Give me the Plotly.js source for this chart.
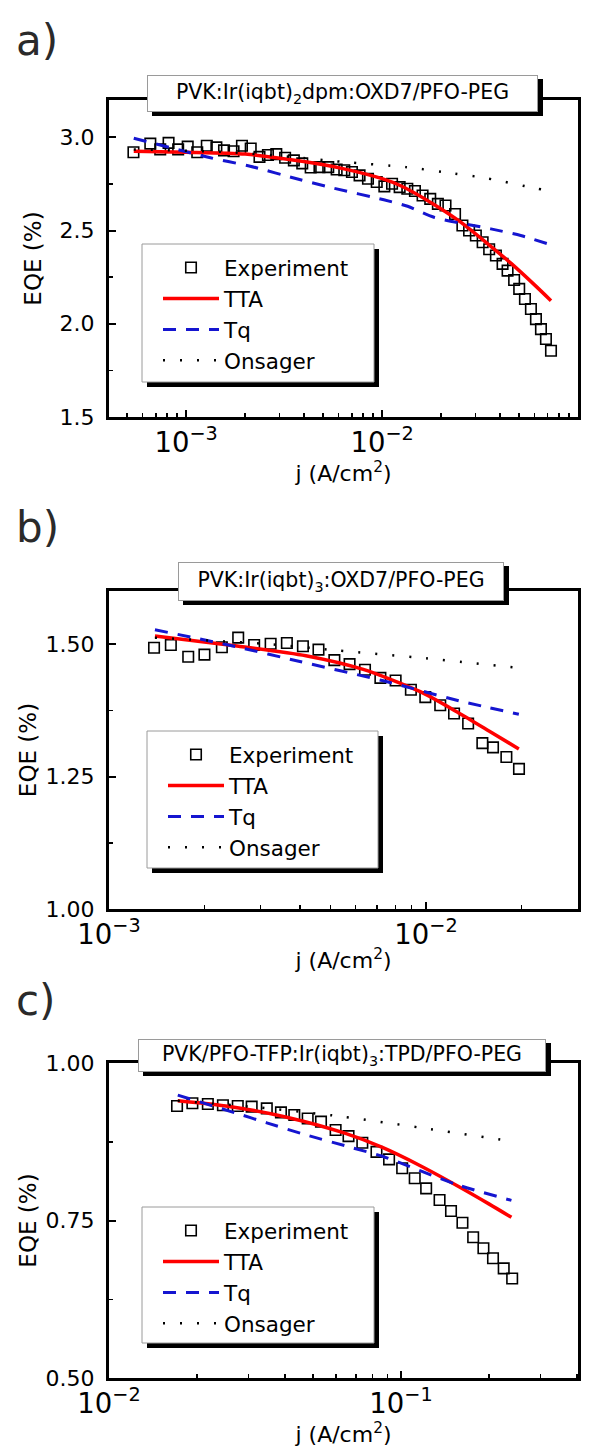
<!DOCTYPE html>
<html>
<head>
<meta charset="utf-8">
<script src="https://cdn.plot.ly/plotly-3.0.1.min.js"></script>
<style>
html,body{margin:0;padding:0;background:#fff;}
#chart{width:596px;height:1450px;}
</style>
</head>
<body>
<div id="chart"></div>
<script>
// ---------------- data ----------------
const panelLabels = ['a)', 'b)', 'c)'];
const panelTitles = [
  'PVK:Ir(iqbt)<sub>2</sub>dpm:OXD7/PFO-PEG',
  'PVK:Ir(iqbt)<sub>3</sub>:OXD7/PFO-PEG',
  'PVK/PFO-TFP:Ir(iqbt)<sub>3</sub>:TPD/PFO-PEG'
];
const seriesNames = ['Experiment', 'TTA', 'Tq', 'Onsager'];
const xTitle = 'j (A/cm<sup>2</sup>)';
const yTitle = 'EQE (%)';

// panel a
const aExpJ = [5.38e-4, 6.56e-4, 7.37e-4, 8.13e-4, 9.10e-4, 1.018e-3, 1.139e-3, 1.274e-3, 1.426e-3, 1.560e-3,
  1.745e-3, 1.926e-3, 2.135e-3, 2.367e-3, 2.614e-3, 2.884e-3, 3.198e-3, 3.545e-3, 3.913e-3, 4.320e-3,
  4.789e-3, 5.311e-3, 5.861e-3, 6.412e-3, 7.015e-3, 7.674e-3, 8.47e-3, 9.39e-3, 1.027e-2, 1.124e-2,
  1.229e-2, 1.345e-2, 1.471e-2, 1.609e-2, 1.761e-2, 1.926e-2, 2.107e-2, 2.357e-2,
  2.57e-2, 2.78e-2, 3.01e-2, 3.26e-2, 3.52e-2, 3.81e-2, 4.12e-2, 4.37e-2, 4.72e-2, 5.01e-2,
  5.36e-2, 5.75e-2, 6.10e-2, 6.47e-2, 6.86e-2, 7.28e-2];
const aExpEQE = [2.92, 2.966, 2.935, 2.97, 2.935, 2.95, 2.92, 2.955, 2.946, 2.93,
  2.925, 2.955, 2.94, 2.895, 2.905, 2.91, 2.89, 2.876, 2.86, 2.838,
  2.84, 2.84, 2.827, 2.823, 2.814, 2.796, 2.778, 2.76, 2.737, 2.751,
  2.733, 2.724, 2.712, 2.688, 2.67, 2.643, 2.634, 2.589,
  2.527, 2.50, 2.473, 2.437, 2.40, 2.366, 2.321, 2.285, 2.235, 2.187,
  2.133, 2.079, 2.025, 1.971, 1.918, 1.855];
const aTtaJ = [5.4e-4, 1.0e-3, 2.0e-3, 3.98e-3, 6.31e-3, 1.0e-2, 1.245e-2, 1.84e-2, 2.52e-2, 3.45e-2, 4.54e-2, 5.98e-2, 7.28e-2];
const aTtaEQE = [2.925, 2.92, 2.91, 2.87, 2.832, 2.778, 2.74, 2.64, 2.545, 2.43, 2.325, 2.21, 2.124];
const aTqJ = [5.4e-4, 1.33e-3, 2.12e-3, 3.83e-3, 5.66e-3, 1.02e-2, 1.35e-2, 1.84e-2, 3.59e-2, 5.1e-2, 7.28e-2];
const aTqEQE = [2.995, 2.89, 2.845, 2.772, 2.727, 2.665, 2.63, 2.571, 2.509, 2.473, 2.423];
const aOnsJ = [5.4e-4, 1.67e-3, 3.42e-3, 6.31e-3, 1.32e-2, 2.32e-2, 3.43e-2, 6.1e-2, 7.28e-2];
const aOnsEQE = [2.935, 2.92, 2.895, 2.868, 2.84, 2.806, 2.78, 2.726, 2.712];

// panel b
const bExpJ = [1.387e-3, 1.567e-3, 1.778e-3, 2.0e-3, 2.27e-3, 2.556e-3, 2.87e-3, 3.235e-3, 3.64e-3, 4.09e-3,
  4.58e-3, 5.14e-3, 5.74e-3, 6.42e-3, 7.18e-3, 8.02e-3, 8.96e-3, 9.95e-3, 1.109e-2, 1.226e-2,
  1.358e-2, 1.506e-2, 1.627e-2, 1.793e-2, 1.965e-2];
const bExpEQE = [1.493, 1.498, 1.476, 1.480, 1.494, 1.512, 1.498, 1.5005, 1.502, 1.4957,
  1.4894, 1.4696, 1.462, 1.4515, 1.436, 1.431, 1.4136, 1.3998, 1.3843, 1.3688,
  1.350, 1.313, 1.305, 1.2867, 1.2643];
const bTtaJ = [1.396e-3, 2.535e-3, 4.18e-3, 6.34e-3, 9.59e-3, 1.268e-2, 1.58e-2, 1.963e-2];
const bTtaEQE = [1.515, 1.4963, 1.478, 1.452, 1.41, 1.37, 1.336, 1.302];
const bTqJ = [1.396e-3, 2.51e-3, 4.0e-3, 7.28e-3, 1.268e-2, 1.963e-2];
const bTqEQE = [1.527, 1.495, 1.467, 1.431, 1.393, 1.3675];
const bOnsJ = [1.396e-3, 3.16e-3, 5.21e-3, 1.0e-2, 1.963e-2];
const bOnsEQE = [1.512, 1.50, 1.488, 1.473, 1.455];

// panel c
const cExpJ = [1.71e-2, 1.93e-2, 2.18e-2, 2.455e-2, 2.76e-2, 3.08e-2, 3.47e-2, 3.88e-2, 4.31e-2, 4.79e-2,
  5.32e-2, 5.97e-2, 6.61e-2, 7.37e-2, 8.24e-2, 9.10e-2, 0.1009, 0.1114, 0.1219, 0.1355,
  0.1483, 0.1623, 0.1766, 0.1915, 0.2065, 0.2247, 0.2402];
const cExpEQE = [0.9317, 0.936, 0.935, 0.933, 0.9317, 0.9307, 0.928, 0.9217, 0.9175, 0.912,
  0.9069, 0.8937, 0.884, 0.8735, 0.859, 0.847, 0.833, 0.817, 0.801, 0.7825,
  0.765, 0.7465, 0.7233, 0.706, 0.690, 0.674, 0.658];
const cTtaJ = [1.72e-2, 2.58e-2, 4.06e-2, 6.38e-2, 8.63e-2, 0.1164, 0.1574, 0.2005, 0.2388];
const cTtaEQE = [0.940, 0.931, 0.914, 0.889, 0.866, 0.837, 0.804, 0.776, 0.755];
const cTqJ = [1.72e-2, 2.74e-2, 3.47e-2, 4.72e-2, 6.87e-2, 8.63e-2, 0.1574, 0.2388];
const cTqEQE = [0.949, 0.92, 0.905, 0.886, 0.865, 0.852, 0.806, 0.782];
const cOnsJ = [1.72e-2, 3.16e-2, 6.28e-2, 0.126, 0.2388];
const cOnsEQE = [0.94, 0.93, 0.915, 0.895, 0.876];

// ---------------- layout helpers ----------------
const W = 596, H = 1450;
const FONT = 'DejaVu Sans, Liberation Sans, Arial, sans-serif';
const px = v => v / W;
const py = v => 1 - v / H;

const panels = [
  { data: [[aExpJ, aExpEQE], [aTtaJ, aTtaEQE], [aTqJ, aTqEQE], [aOnsJ, aOnsEQE]],
    xr: [-3.394, -1], yr: [1.5, 3.2], ydt: 0.5, yfmt: '.1f', top: 100, bottom: 417,
    box: [147, 75, 538, 112], leg: [142, 244, 374, 382], lab: 40, ystand: 12 },
  { data: [[bExpJ, bExpEQE], [bTtaJ, bTtaEQE], [bTqJ, bTqEQE], [bOnsJ, bOnsEQE]],
    xr: [-3, -1.5205], yr: [1.0, 1.6], ydt: 0.25, yfmt: '.2f', top: 591, bottom: 909,
    box: [178, 562, 504, 601], leg: [147, 731, 378, 868], lab: 527, ystand: 3 },
  { data: [[cExpJ, cExpEQE], [cTtaJ, cTtaEQE], [cTqJ, cTqEQE], [cOnsJ, cOnsEQE]],
    xr: [-2, -0.394], yr: [0.5, 1.0], ydt: 0.25, yfmt: '.2f', top: 1063, bottom: 1378,
    box: [138, 1039, 546, 1072], leg: [142, 1207, 374, 1343], lab: 1000, ystand: 3 }
];

const styles = [
  { mode: 'markers', marker: { symbol: 'square-open', size: 10.5, color: '#000', line: { width: 1.6, color: '#000' } } },
  { mode: 'lines', line: { color: '#ff0000', width: 3.5, shape: 'spline', smoothing: 0.7 } },
  { mode: 'lines', line: { color: '#1515d0', width: 3, dash: '13px,10px', shape: 'spline', smoothing: 0.7 } },
  { mode: 'lines', line: { color: '#000', width: 2.5, dash: '2px,15px', shape: 'spline', smoothing: 0.7 } }
];

const traces = [];
const layout = {
  width: W, height: H,
  margin: { l: 0, r: 0, t: 0, b: 0 },
  paper_bgcolor: '#fff', plot_bgcolor: '#fff',
  font: { family: FONT, color: '#000', size: 22 },
  annotations: [], shapes: []
};

panels.forEach((p, i) => {
  const n = i === 0 ? '' : String(i + 1);
  const xa = 'x' + n, ya = 'y' + n;
  const legId = 'legend' + n;
  p.data.forEach((d, k) => {
    traces.push(Object.assign({
      type: 'scatter', x: d[0], y: d[1], name: seriesNames[k],
      xaxis: xa, yaxis: ya, legend: legId, showlegend: true, cliponaxis: true
    }, JSON.parse(JSON.stringify(styles[k]))));
  });

  layout['xaxis' + n] = {
    type: 'log', range: p.xr, domain: [px(109), px(578)], anchor: ya,
    showline: true, linewidth: 3, linecolor: '#000', mirror: true,
    ticks: 'inside', ticklen: 7, tickwidth: 2, tickcolor: '#000',
    dtick: 1, exponentformat: 'power', showgrid: false, zeroline: false,
    minor: { ticks: 'inside', ticklen: 4, tickwidth: 1.5, tickcolor: '#000', dtick: 'D1', showgrid: false },
    tickfont: { size: 22, family: FONT },
    title: { text: xTitle, font: { size: 22, family: FONT }, standoff: 4 }
  };
  layout['yaxis' + n] = {
    range: p.yr, domain: [py(p.bottom), py(p.top)], anchor: xa,
    showline: true, linewidth: 3, linecolor: '#000', mirror: true,
    ticks: 'inside', ticklen: 7, tickwidth: 2, tickcolor: '#000',
    dtick: p.ydt, tick0: 0, tickformat: p.yfmt, showgrid: false, zeroline: false,
    ticklabelstandoff: 7,
    minor: { ticks: 'inside', ticklen: 4, tickwidth: 1.5, tickcolor: '#000', dtick: p.ydt / 2, showgrid: false },
    tickfont: { size: 22, family: FONT },
    title: { text: yTitle, font: { size: 23, family: FONT }, standoff: p.ystand }
  };

  // legend: entries drawn by Plotly on top of a drawn box with a shadow
  layout[legId] = {
    x: px(p.leg[0] + 16), y: py(p.leg[1] + 3), xanchor: 'left', yanchor: 'top',
    bgcolor: 'rgba(0,0,0,0)', borderwidth: 0,
    font: { size: 21.5, family: FONT, color: '#000' }, itemwidth: 56, tracegroupgap: 0
  };
  layout.shapes.push({ type: 'rect', xref: 'paper', yref: 'paper', layer: 'above',
    x0: px(p.leg[0] + 5), x1: px(p.leg[2] + 5), y0: py(p.leg[3] + 5), y1: py(p.leg[1] + 5),
    fillcolor: '#000', line: { width: 0 } });
  layout.shapes.push({ type: 'rect', xref: 'paper', yref: 'paper', layer: 'above',
    x0: px(p.leg[0]), x1: px(p.leg[2]), y0: py(p.leg[3]), y1: py(p.leg[1]),
    fillcolor: '#fff', line: { width: 1, color: '#9a9a9a' } });

  // title box shadow
  layout.shapes.push({ type: 'rect', xref: 'paper', yref: 'paper', layer: 'above',
    x0: px(p.box[0] + 5), x1: px(p.box[2] + 5), y0: py(p.box[3] + 4), y1: py(p.box[1] + 4),
    fillcolor: '#000', line: { width: 0 } });

  // title box
  layout.annotations.push({
    xref: 'paper', yref: 'paper', showarrow: false,
    x: px((p.box[0] + p.box[2]) / 2), y: py((p.box[1] + p.box[3]) / 2),
    xanchor: 'center', yanchor: 'middle',
    text: panelTitles[i], font: { size: 20.5, family: FONT, color: '#000' },
    bgcolor: '#fff', bordercolor: '#9a9a9a', borderwidth: 1, borderpad: 0,
    width: p.box[2] - p.box[0] - 2, height: p.box[3] - p.box[1] - 2
  });
  // panel label
  layout.annotations.push({
    xref: 'paper', yref: 'paper', showarrow: false,
    x: px(14), y: py(p.lab), xanchor: 'left', yanchor: 'middle',
    text: panelLabels[i], font: { size: 42, family: FONT, color: '#2a2a2a' }
  });
});

Plotly.newPlot('chart', traces, layout, { staticPlot: true, displayModeBar: false });
</script>
</body>
</html>
